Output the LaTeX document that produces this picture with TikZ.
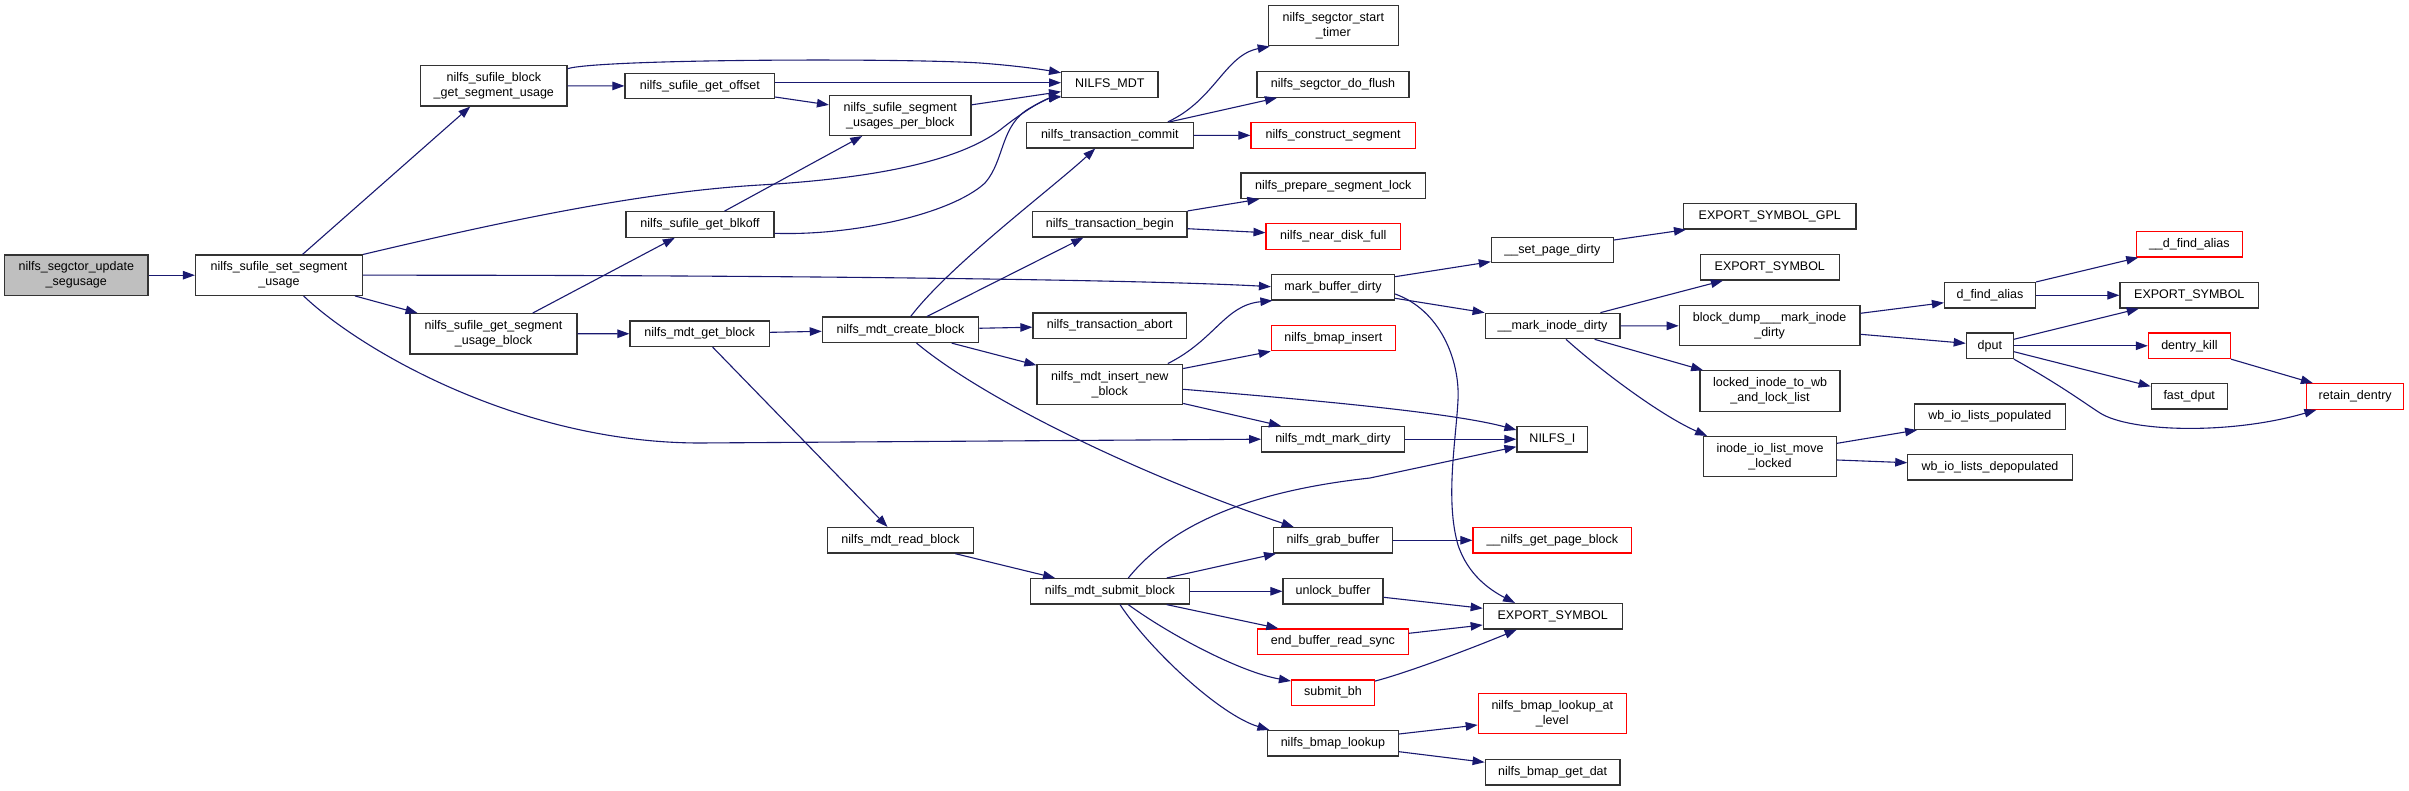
\documentclass[tikz,border=0pt]{standalone}
\usepackage{fontspec}
\setmainfont{Liberation Sans}
\usetikzlibrary{arrows.meta}
\definecolor{edgecol}{HTML}{191970}
\definecolor{rootfill}{HTML}{BFBFBF}
\definecolor{redline}{HTML}{FF0000}
\begin{document}
\begin{tikzpicture}[x=1pt,y=-1pt,
  fn/.style={draw=black!80, line width=1.2pt, fill=white, rectangle, inner sep=0pt,
             align=center, font=\fontsize{12.5}{15}\selectfont},
  fnred/.style={fn, draw=redline},
  hone/.style={minimum height=25.5pt},
  htwo/.style={minimum height=40.3pt},
  call/.style={draw=edgecol, line width=1.1pt, -{Triangle[length=12pt,width=8.5pt]}}]
\useasboundingbox[fill=white] (0,0) rectangle (2409,791);

% column 1-2
\node[fn, htwo, fill=rootfill, minimum width=143.5pt] (seg) at (76.3,275.2) {nilfs\_segctor\_update\\\_segusage};
\node[fn, htwo, minimum width=167pt] (set) at (279,275.2) {nilfs\_sufile\_set\_segment\\\_usage};
% column 3
\node[fn, htwo, minimum width=146.5pt] (bgsu) at (493.8,85.8) {nilfs\_sufile\_block\\\_get\_segment\_usage};
\node[fn, htwo, minimum width=167pt] (gsub) at (493.5,333.8) {nilfs\_sufile\_get\_segment\\\_usage\_block};
% column 4
\node[fn, hone, minimum width=149.6pt] (off) at (699.8,86) {nilfs\_sufile\_get\_offset};
\node[fn, hone, minimum width=148pt] (blk) at (700,224.5) {nilfs\_sufile\_get\_blkoff};
\node[fn, hone, minimum width=139.2pt] (mgb) at (699.6,333.7) {nilfs\_mdt\_get\_block};
% column 5
\node[fn, htwo, minimum width=141.5pt] (upb) at (900.3,115.3) {nilfs\_sufile\_segment\\\_usages\_per\_block};
\node[fn, hone, minimum width=156.3pt] (mcb) at (900.5,329.8) {nilfs\_mdt\_create\_block};
\node[fn, hone, minimum width=145.5pt] (mrb) at (900.5,540.3) {nilfs\_mdt\_read\_block};
% column 6
\node[fn, hone, minimum width=96.4pt] (mdt) at (1109.8,84.5) {NILFS\_MDT};
\node[fn, hone, minimum width=167pt] (tc) at (1109.8,135.2) {nilfs\_transaction\_commit};
\node[fn, hone, minimum width=154.4pt] (tb) at (1109.8,224.3) {nilfs\_transaction\_begin};
\node[fn, hone, minimum width=153.6pt] (ta) at (1109.8,325.7) {nilfs\_transaction\_abort};
\node[fn, htwo, minimum width=145.6pt] (inb) at (1109.8,384.3) {nilfs\_mdt\_insert\_new\\\_block};
\node[fn, hone, minimum width=159pt] (msb) at (1109.8,591.3) {nilfs\_mdt\_submit\_block};
% column 7
\node[fn, htwo, minimum width=130pt] (sst) at (1333.3,25.7) {nilfs\_segctor\_start\\\_timer};
\node[fn, hone, minimum width=152pt] (sdf) at (1333,84.5) {nilfs\_segctor\_do\_flush};
\node[fnred, hone, minimum width=164.2pt] (cs) at (1333.1,135.5) {nilfs\_construct\_segment};
\node[fn, hone, minimum width=184.5pt] (psl) at (1333.3,185.8) {nilfs\_prepare\_segment\_lock};
\node[fnred, hone, minimum width=134.3pt] (ndf) at (1333.2,236.5) {nilfs\_near\_disk\_full};
\node[fn, hone, minimum width=123pt] (mbd) at (1333,287.3) {mark\_buffer\_dirty};
\node[fnred, hone, minimum width=124pt] (bi) at (1333.3,338) {nilfs\_bmap\_insert};
\node[fn, hone, minimum width=142.5pt] (mmd) at (1332.9,439.2) {nilfs\_mdt\_mark\_dirty};
\node[fn, hone, minimum width=119pt] (gb) at (1333.1,540.3) {nilfs\_grab\_buffer};
\node[fn, hone, minimum width=100pt] (ub) at (1333,591.3) {unlock\_buffer};
\node[fnred, hone, minimum width=150.8pt] (ebrs) at (1332.9,641.7) {end\_buffer\_read\_sync};
\node[fnred, hone, minimum width=83pt] (sbh) at (1333,692.7) {submit\_bh};
\node[fn, hone, minimum width=131pt] (bl) at (1332.9,743.3) {nilfs\_bmap\_lookup};
% column 8
\node[fn, hone, minimum width=122pt] (spd) at (1552.4,250) {\_\_set\_page\_dirty};
\node[fn, hone, minimum width=134.8pt] (mid) at (1552.6,326) {\_\_mark\_inode\_dirty};
\node[fn, hone, minimum width=70.8pt] (nilfsi) at (1552.4,439.2) {NILFS\_I};
\node[fnred, hone, minimum width=158.8pt] (gpb) at (1552.4,540.3) {\_\_nilfs\_get\_page\_block};
\node[fn, hone, minimum width=138.9pt] (es2) at (1552.7,616.3) {EXPORT\_SYMBOL};
\node[fnred, htwo, minimum width=148pt] (bll) at (1552.3,713.7) {nilfs\_bmap\_lookup\_at\\\_level};
\node[fn, hone, minimum width=134.8pt] (bgd) at (1552.6,772.2) {nilfs\_bmap\_get\_dat};
% column 9
\node[fn, hone, minimum width=172.5pt] (esg) at (1769.8,216.3) {EXPORT\_SYMBOL\_GPL};
\node[fn, hone, minimum width=139pt] (es1) at (1769.8,267.3) {EXPORT\_SYMBOL};
\node[fn, htwo, minimum width=180.6pt] (bd) at (1769.6,325.7) {block\_dump\_\_\_mark\_inode\\\_dirty};
\node[fn, htwo, minimum width=140pt] (lit) at (1770,391) {locked\_inode\_to\_wb\\\_and\_lock\_list};
\node[fn, htwo, minimum width=133pt] (iol) at (1770,456.7) {inode\_io\_list\_move\\\_locked};
% column 10
\node[fn, hone, minimum width=91pt] (dfa) at (1990,295.3) {d\_find\_alias};
\node[fn, hone, minimum width=47pt] (dput) at (1989.8,345.8) {dput};
\node[fn, hone, minimum width=150.8pt] (wbp) at (1989.9,416.7) {wb\_io\_lists\_populated};
\node[fn, hone, minimum width=164.3pt] (wbd) at (1990,467.3) {wb\_io\_lists\_depopulated};
% column 11-12
\node[fnred, hone, minimum width=106pt] (dfa2) at (2189.3,244.2) {\_\_d\_find\_alias};
\node[fn, hone, minimum width=138.7pt] (es3) at (2189.3,295.3) {EXPORT\_SYMBOL};
\node[fnred, hone, minimum width=82pt] (dk) at (2189.4,345.8) {dentry\_kill};
\node[fn, hone, minimum width=76pt] (fd) at (2189.2,396.3) {fast\_dput};
\node[fnred, hone, minimum width=97pt] (rd) at (2355.2,396.5) {retain\_dentry};

% edges
\draw[call] (seg) -- (set);
\draw[call] (set) -- (bgsu);
\draw[call] (set.north east) .. controls (500,222) and (640,192) .. (760,185) .. controls (880,178) and (960,160) .. (1000,130) .. controls (1025,110) and (1045,99) .. ([yshift=1.8pt]mdt.south west);
\draw[call] ([yshift=-3.6pt]bgsu.north east) .. controls (600,59) and (900,58) .. (980,63) .. controls (1020,66) and (1045,70) .. ([yshift=-1.6pt]mdt.north west);
\draw[call] ([yshift=3.3pt]off.east) -- ([yshift=1.8pt]mdt.west);
\draw[call] (bgsu) -- (off);
\draw[call] (off) -- (upb);
\draw[call] (upb) -- (mdt);
\draw[call] (blk) -- (upb);
\draw[call] ([yshift=-8.8pt]blk.east) .. controls (850,236) and (950,215) .. (985,183) .. controls (1005,160) and (1000,125) .. (1030,108) .. controls (1042,101) and (1052,97.5) .. ([yshift=0.8pt]mdt.south west);
\draw[call] (set) -- (gsub);
\draw[call] (set.east) .. controls (800,275) and (1150,280) .. ([yshift=0.6pt]mbd.west);
\draw[call] ([xshift=24.6pt]set.south) .. controls (360,350) and (520,443) .. (700,443) -- (mmd.west);
\draw[call] (gsub) -- (blk);
\draw[call] (gsub) -- (mgb);
\draw[call] (mgb) -- (mcb);
\draw[call] (mgb) -- (mrb);
\draw[call] (mcb) .. controls (950,265) and (1050,190) .. (tc);
\draw[call] (mcb) -- (tb);
\draw[call] (mcb) -- (ta);
\draw[call] (mcb) -- (inb);
\draw[call] (mcb) .. controls (985,400) and (1140,475) .. (gb);
\draw[call] ([xshift=58pt]tc.north) .. controls (1215,100) and (1225,55) .. ([xshift=2pt]sst.south west);
\draw[call] ([xshift=60pt]tc.north) -- ([xshift=-56pt]sdf.south);
\draw[call] (tc) -- (cs);
\draw[call] (tb.north east) -- ([xshift=-74pt]psl.south);
\draw[call] ([yshift=-4.4pt]tb.east) -- ([yshift=3.8pt]ndf.west);
\draw[call] ([xshift=58pt]inb.north) .. controls (1215,340) and (1225,305) .. ([xshift=1.5pt]mbd.south west);
\draw[call] ([yshift=-5pt]inb.north east) -- (bi.south west);
\draw[call] ([yshift=-5pt]inb.east) .. controls (1300,399) and (1450,412) .. ([yshift=9.2pt]nilfsi.west);
\draw[call] ([yshift=1.6pt]inb.south east) -- ([xshift=-52pt]mmd.north);
\draw[call] (mmd) -- (nilfsi);
\draw[call] ([yshift=10.6pt]mbd.east) -- ([yshift=-11.7pt]spd.west);
\draw[call] ([yshift=-11pt]mbd.east) -- (mid.north west);
\draw[call] ([yshift=-6.7pt]mbd.east) .. controls (1440,310) and (1460,360) .. (1458,400) .. controls (1456,440) and (1445,500) .. (1458,545) .. controls (1468,575) and (1490,590) .. ([xshift=-37.7pt]es2.north);
\draw[call] ([yshift=10pt]spd.east) -- ([xshift=3pt]esg.south west);
\draw[call] ([xshift=47.8pt]mid.north) -- ([xshift=-46.9pt]es1.south);
\draw[call] (mid) -- (bd);
\draw[call] ([xshift=42pt]mid.south) -- ([xshift=3.7pt]lit.north west);
\draw[call] ([xshift=13.4pt]mid.south) .. controls (1600,370) and (1660,415) .. ([xshift=4.2pt]iol.north west);
\draw[call] ([yshift=12.4pt]bd.east) -- ([yshift=-7.4pt]dfa.west);
\draw[call] ([yshift=-8.6pt]bd.east) -- ([yshift=2.5pt]dput.west);
\draw[call] (dfa.north east) -- ([xshift=2.5pt]dfa2.south west);
\draw[call] (dfa) -- (es3);
\draw[call] ([yshift=6.5pt]dput.east) -- ([xshift=-50.5pt]es3.south);
\draw[call] (dput) -- (dk);
\draw[call] ([yshift=-5.9pt]dput.east) -- ([yshift=-3.4pt]fd.north west);
\draw[call] (dput.south east) .. controls (2060,385) and (2080,400) .. (2100,413) .. controls (2130,432) and (2230,435) .. ([xshift=10.3pt]rd.south west);
\draw[call] (dk.south east) -- ([xshift=6.8pt]rd.north west);
\draw[call] ([yshift=13.4pt]iol.east) -- ([xshift=3.2pt]wbp.south west);
\draw[call] ([yshift=-3.3pt]iol.east) -- ([yshift=4.6pt]wbd.west);
\draw[call] (gb) -- (gpb);
\draw[call] (mrb) -- (msb);
\draw[call] ([xshift=18.5pt]msb.north) .. controls (1175,520) and (1260,490) .. (1370,478) -- ([yshift=-7.5pt]nilfsi.west);
\draw[call] ([xshift=57pt]msb.north) -- ([xshift=3pt]gb.south west);
\draw[call] (msb) -- (ub);
\draw[call] ([xshift=57pt]msb.south) -- ([xshift=-54.6pt]ebrs.north);
\draw[call] ([xshift=18.5pt]msb.south) .. controls (1170,635) and (1240,672) .. ([yshift=-1.7pt]sbh.north west);
\draw[call] ([xshift=10.2pt]msb.south) .. controls (1150,650) and (1220,715) .. ([xshift=2.6pt]bl.north west);
\draw[call] ([yshift=-6pt]ub.east) -- ([yshift=8pt]es2.west);
\draw[call] ([yshift=8.4pt]ebrs.east) -- ([yshift=-8.7pt]es2.west);
\draw[call] ([yshift=-1.7pt]sbh.north east) .. controls (1410,672) and (1480,645) .. ([xshift=-36pt]es2.south);
\draw[call] ([yshift=9.3pt]bl.east) -- ([yshift=-11.3pt]bll.west);
\draw[call] ([yshift=-8.4pt]bl.east) -- ([yshift=-3.4pt]bgd.north west);
\end{tikzpicture}
\end{document}
